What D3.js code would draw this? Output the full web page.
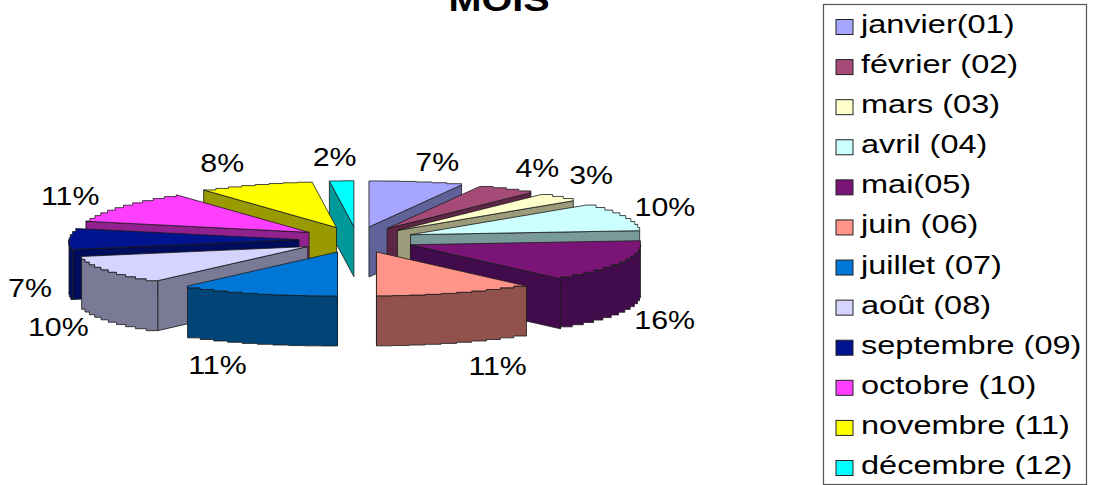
<!DOCTYPE html>
<html><head><meta charset="utf-8"><script src="https://cdnjs.cloudflare.com/ajax/libs/d3/7.8.5/d3.min.js"></script>
<style>html,body{margin:0;padding:0;background:#fff}svg{display:block}text{font-family:"Liberation Sans",Arial,sans-serif;fill:#000}</style></head><body>
<svg id="c" width="1093" height="485"></svg>
<script>
const months=["janvier(01)","février (02)","mars (03)","avril (04)","mai(05)","juin (06)","juillet (07)","août (08)","septembre (09)","octobre (10)","novembre (11)","décembre (12)"];
const shares=[6.6,4.15,3.1,9.75,15.5,10.9,10.9,10.49,7.49,11.32,8.1,1.7];
const topColors=["#a6a6ff","#a64a78","#ffffcc","#ccffff","#7a1577","#ff9489","#0077d6","#d4d4ff","#00148f","#ff3eff","#ffff00","#00ffff"];
const sideColors=["#5f6399","#5e2645","#9c9c7a","#7a9999","#420c4c","#91524e","#004478","#7a7a96","#000c5c","#90218f","#999900","#009999"];
const labelNudges=[[21,-20],[31,-21],[33,-22],[42,-10],[39,58],[41,73],[-40,72],[-50,57],[-39,49],[-49,-10],[-33,-22],[-7,-24]];

const svg=d3.select("#c");
const cx=357,cy=239.7,rx=230,ryBack=46,ryFront=44,explodeX=58,explodeY=13,depth=50,frontWiden=0.04;
const slices=d3.pie().sort(null).value(d=>d)(shares).map((s,i)=>({...s,i,mid:(s.startAngle+s.endAngle)/2}));
const tip=s=>[cx+explodeX*Math.sin(s.mid),cy-explodeY*Math.cos(s.mid)];
const rim=(s,t)=>{const[a,b]=tip(s),c=Math.cos(t);
  return[a+rx*(1+frontWiden*Math.max(0,-c))*Math.sin(t),b-(c>0?ryBack:ryFront)*c];};
const down=p=>[p[0],p[1]+depth];
const sample=(a,b)=>{const n=Math.max(2,Math.ceil((b-a)/0.07));return d3.range(n+1).map(k=>a+(b-a)*k/n);};
// the original's outer edge is a low-resolution staircase
const stair=pts=>pts.flatMap((p,k)=>k<pts.length-1?[p,[pts[k+1][0],p[1]]]:[p]);
const line=d3.line().curve(d3.curveLinear);
const closed=pts=>line(pts)+"Z";
const order=[...slices].sort((p,q)=>Math.cos(q.mid)-Math.cos(p.mid));
const g=svg.append("g").attr("stroke","#1a1a1a").attr("stroke-width",0.8).attr("stroke-linejoin","round");
order.forEach(s=>{
  const t=tip(s),P=Math.PI;
  const wallAngle=s.mid<P?s.endAngle:s.startAngle;
  const w=rim(s,wallAngle);
  g.append("path").attr("d",closed([t,w,down(w),down(t)])).attr("fill",sideColors[s.i]);
  const a=Math.max(s.startAngle,P/2),b=Math.min(s.endAngle,3*P/2);
  if(b>a){
    const top=stair(sample(a,b).map(x=>rim(s,x)));
    g.append("path").attr("d",closed([...top,...top.map(down).reverse()])).attr("fill",sideColors[s.i]);
  }
  g.append("path").attr("d",closed([t,...stair(sample(s.startAngle,s.endAngle).map(x=>rim(s,x)))])).attr("fill",topColors[s.i]);
});
slices.forEach(s=>{
  const m=rim(s,s.mid),n=labelNudges[s.i];
  svg.append("text").attr("transform",`translate(${m[0]+n[0]},${m[1]+n[1]+9}) scale(1.19,1)`)
    .attr("text-anchor","middle").attr("font-size",25.5).text(Math.round(s.value)+"%");
});
svg.append("text").attr("transform","translate(499,11) scale(1.2,1)").attr("text-anchor","middle")
  .attr("font-size",33).attr("font-weight","bold").text("MOIS");
const legend=svg.append("g");
legend.append("rect").attr("x",823.5).attr("y",4.5).attr("width",263).attr("height",480).attr("fill","#fff").attr("stroke","#555").attr("stroke-width",1.2);
const rowY=d3.scalePoint().domain(months).range([27,468]);
months.forEach((m,i)=>{
  const y=rowY(m);
  legend.append("rect").attr("x",836).attr("y",y-7.5).attr("width",17).attr("height",15).attr("fill",topColors[i]).attr("stroke","#222").attr("stroke-width",1);
  legend.append("text").attr("transform",`translate(861,${y+6}) scale(1.275,1)`).attr("font-size",25.5).text(m);
});
</script></body></html>
